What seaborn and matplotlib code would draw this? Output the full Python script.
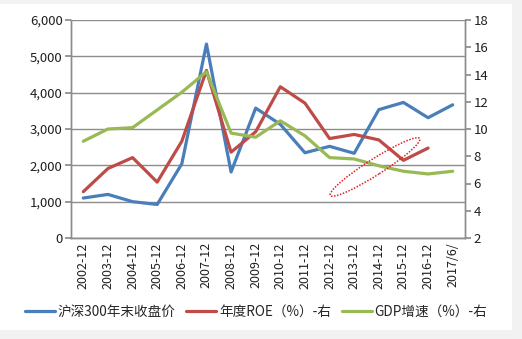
import numpy as np
import pandas as pd
import seaborn as sns
import matplotlib.pyplot as plt
from matplotlib.patches import Ellipse, Rectangle
from matplotlib.transforms import IdentityTransform
from matplotlib.ticker import FuncFormatter, FixedLocator

sns.set_theme(style="white")
plt.rcParams['font.family'] = ['Noto Sans CJK SC', 'DejaVu Sans']

periods = ["2002-12", "2003-12", "2004-12", "2005-12", "2006-12", "2007-12",
           "2008-12", "2009-12", "2010-12", "2011-12", "2012-12", "2013-12",
           "2014-12", "2015-12", "2016-12", "2017/6/"]
csi300_close = [1100, 1200, 1000, 923, 2042, 5338, 1817, 3575, 3128, 2346,
                2523, 2331, 3533, 3731, 3310, 3666]
roe = [5.4, 7.1, 7.9, 6.1, 9.1, 14.3, 8.3, 9.8, 13.1, 11.9, 9.3, 9.6, 9.2,
       7.7, 8.6, np.nan]
gdp_growth = [9.1, 10.0, 10.1, 11.4, 12.7, 14.2, 9.7, 9.4, 10.6, 9.5, 7.9,
              7.8, 7.3, 6.9, 6.7, 6.9]

labels = ["沪深300年末收盘价", "年度ROE（%）-右", "GDP增速（%）-右"]
colors = ["#4a7ebb", "#be4b48", "#98b954"]

df = pd.DataFrame({
    "pos": np.arange(len(periods)),
    "close": csi300_close,
    "roe": roe,
    "gdp": gdp_growth,
})

fig = plt.figure(figsize=(5.22, 3.39), dpi=100)
fig.patch.set_facecolor("#f2f2f2")
fig.add_artist(Rectangle((0, 9), 512, 326, transform=IdentityTransform(),
                         facecolor="white", edgecolor="none", zorder=0))

ax = fig.add_axes([71 / 522, 101 / 339, 394 / 522, 218 / 339])
ax.set_facecolor("none")
ax2 = ax.twinx()

sns.lineplot(data=df, x="pos", y="close", ax=ax, color=colors[0], lw=2.3,
             label=labels[0], legend=False)
sns.lineplot(data=df.dropna(subset=["roe"]), x="pos", y="roe", ax=ax2,
             color=colors[1], lw=2.3, label=labels[1], legend=False)
sns.lineplot(data=df, x="pos", y="gdp", ax=ax2, color=colors[2], lw=2.3,
             label=labels[2], legend=False)

grid_c = "#8c8c8c"
ax.set_xlim(-0.5, len(periods) - 0.5)
ax.set_ylim(0, 6000)
ax.set_yticks(np.arange(0, 6001, 1000))
ax.yaxis.set_major_formatter(FuncFormatter(lambda v, p: f"{int(v):,}"))
ax2.set_ylim(2, 18)
ax2.set_yticks(np.arange(2, 19, 2))

ax.set_xticks(df["pos"])
ax.set_xticklabels(periods, rotation=90, fontsize=9, color="#1f1f1f")
ax.xaxis.set_minor_locator(FixedLocator(np.arange(-0.5, len(periods), 1)))
ax.tick_params(axis="x", which="major", length=0, pad=3)
ax.tick_params(axis="x", which="minor", length=4, direction="inout",
               color=grid_c, width=1)
ax.tick_params(axis="y", length=4, direction="out", color=grid_c,
               labelsize=9.5, labelcolor="#1f1f1f", pad=2)
ax2.tick_params(axis="y", length=4, direction="out", color=grid_c,
                labelsize=9.5, labelcolor="#1f1f1f", pad=2)

ax.grid(axis="y", color=grid_c, lw=1)
ax.set_axisbelow(True)
for a in (ax, ax2):
    a.set_xlabel("")
    a.set_ylabel("")
    a.spines["top"].set_visible(False)
    for s in ("left", "right", "bottom"):
        a.spines[s].set_color(grid_c)
        a.spines[s].set_linewidth(1)

# dotted highlight ring around the recent ROE / GDP section
fig.add_artist(Ellipse((375, 172), 106, 16, angle=32.5,
                       transform=IdentityTransform(), fill=False,
                       edgecolor="#e0202a", lw=1.1, linestyle=(0, (1, 1))))

handles = ax.get_lines()[:1] + ax2.get_lines()[:2]
fig.legend(handles, labels, loc="center", bbox_to_anchor=(256 / 522, 27.5 / 339),
           ncol=3, frameon=False, fontsize=9.8, handlelength=2.2,
           handletextpad=0.2, columnspacing=0.8)

fig.savefig("out.png", dpi=100, facecolor=fig.get_facecolor())
